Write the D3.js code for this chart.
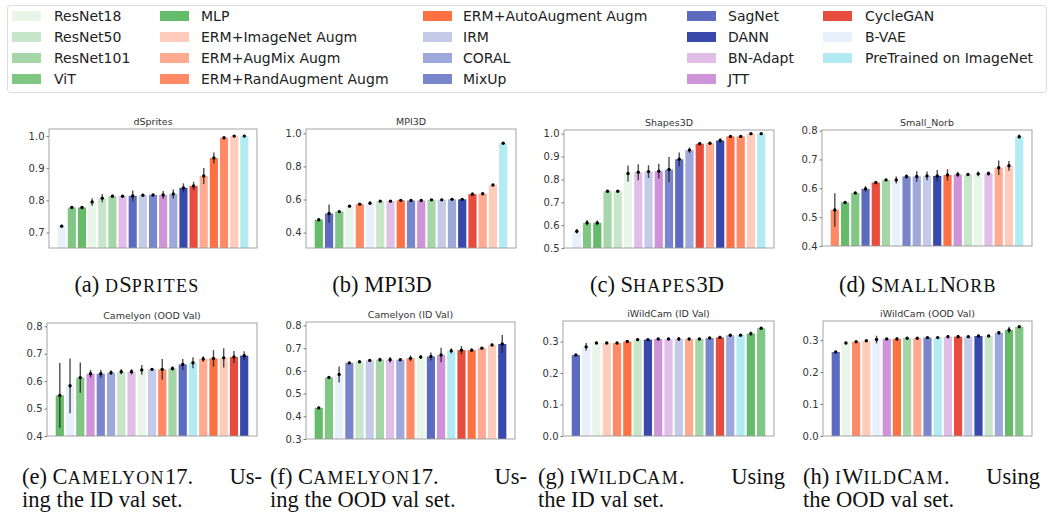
<!DOCTYPE html>
<html lang="en">
<head>
<meta charset="UTF-8">
<script src="https://d3js.org/d3.v7.min.js"></script>
<style>
  body { margin: 0; background: #fff; }
</style>
</head>
<body>
<svg id="fig" width="1054" height="516"></svg>
<script>
// legend / colour table
const methods = ["ResNet18", "ResNet50", "ResNet101", "ViT", "MLP",
  "ERM+ImageNet Augm", "ERM+AugMix Augm", "ERM+RandAugment Augm", "ERM+AutoAugment Augm",
  "IRM", "CORAL", "MixUp", "SagNet", "DANN", "BN-Adapt", "JTT", "CycleGAN", "B-VAE", "PreTrained on ImageNet"];
const methodColors = ["#e8f5e9", "#c8e6c9", "#a5d6a7", "#81c784", "#66bb6a",
  "#ffccbc", "#ffab91", "#ff8a65", "#ff7043",
  "#c5cae9", "#9fa8da", "#7986cb", "#5c6bc0", "#3949ab", "#e1bee7", "#ce93d8", "#e74c3c", "#e8f1fb", "#b2ebf2"];

// dSprites
const dspritesOrder = ["B-VAE", "ViT", "MLP", "ResNet18", "ResNet50", "ResNet101", "BN-Adapt", "SagNet", "IRM", "MixUp", "JTT", "CORAL", "DANN", "CycleGAN", "ERM+AugMix Augm", "ERM+AutoAugment Augm", "ERM+RandAugment Augm", "ERM+ImageNet Augm", "PreTrained on ImageNet"];
const dspritesAcc = [0.720, 0.778, 0.778, 0.795, 0.807, 0.813, 0.813, 0.814, 0.816, 0.817, 0.817, 0.820, 0.839, 0.845, 0.876, 0.932, 0.995, 1.000, 1.000];
const dspritesErr = [0.004, 0.002, 0.004, 0.012, 0.013, 0.005, 0.002, 0.017, 0.003, 0.003, 0.012, 0.014, 0.014, 0.013, 0.025, 0.017, 0.002, 0.001, 0.001];

// MPI3D
const mpi3dOrder = ["MLP", "SagNet", "ViT", "ResNet18", "ERM+RandAugment Augm", "B-VAE", "ResNet50", "BN-Adapt", "ERM+AutoAugment Augm", "MixUp", "JTT", "ResNet101", "IRM", "CORAL", "DANN", "CycleGAN", "ERM+AugMix Augm", "ERM+ImageNet Augm", "PreTrained on ImageNet"];
const mpi3dAcc = [0.478, 0.515, 0.527, 0.560, 0.572, 0.578, 0.590, 0.590, 0.595, 0.594, 0.594, 0.598, 0.598, 0.601, 0.601, 0.632, 0.635, 0.688, 0.940];
const mpi3dErr = [0.002, 0.055, 0.003, 0.003, 0.004, 0.011, 0.004, 0.003, 0.006, 0.004, 0.006, 0.003, 0.003, 0.002, 0.002, 0.010, 0.003, 0.003, 0.002];

// Shapes3D
const shapesOrder = ["B-VAE", "ViT", "MLP", "ResNet101", "ResNet50", "ResNet18", "BN-Adapt", "IRM", "JTT", "MixUp", "SagNet", "CORAL", "CycleGAN", "ERM+AugMix Augm", "DANN", "ERM+AutoAugment Augm", "ERM+RandAugment Augm", "ERM+ImageNet Augm", "PreTrained on ImageNet"];
const shapesAcc = [0.573, 0.610, 0.610, 0.748, 0.748, 0.826, 0.831, 0.834, 0.836, 0.843, 0.888, 0.928, 0.956, 0.958, 0.970, 0.988, 0.988, 1.000, 1.000];
const shapesErr = [0.010, 0.012, 0.010, 0.005, 0.005, 0.035, 0.035, 0.028, 0.032, 0.055, 0.030, 0.012, 0.006, 0.004, 0.010, 0.002, 0.002, 0.001, 0.001];

// Small_Norb
const norbOrder = ["ERM+RandAugment Augm", "MLP", "ViT", "SagNet", "CycleGAN", "ResNet101", "B-VAE", "MixUp", "CORAL", "IRM", "DANN", "ERM+AutoAugment Augm", "JTT", "ResNet50", "ResNet18", "BN-Adapt", "ERM+AugMix Augm", "ERM+ImageNet Augm", "PreTrained on ImageNet"];
const norbAcc = [0.525, 0.551, 0.584, 0.598, 0.620, 0.629, 0.629, 0.641, 0.641, 0.643, 0.643, 0.646, 0.648, 0.648, 0.650, 0.651, 0.671, 0.678, 0.779];
const norbErr = [0.058, 0.005, 0.003, 0.010, 0.003, 0.002, 0.012, 0.007, 0.018, 0.015, 0.020, 0.020, 0.009, 0.004, 0.008, 0.007, 0.025, 0.017, 0.007];

// Camelyon (OOD Val)
const camOodOrder = ["MLP", "B-VAE", "ViT", "JTT", "MixUp", "CORAL", "ResNet50", "BN-Adapt", "ResNet18", "IRM", "ERM+RandAugment Augm", "ResNet101", "SagNet", "PreTrained on ImageNet", "ERM+AugMix Augm", "ERM+AutoAugment Augm", "ERM+ImageNet Augm", "CycleGAN", "DANN"];
const camOodAcc = [0.548, 0.583, 0.613, 0.627, 0.627, 0.631, 0.634, 0.634, 0.641, 0.643, 0.643, 0.646, 0.661, 0.667, 0.681, 0.683, 0.685, 0.688, 0.693];
const camOodErr = [0.118, 0.100, 0.055, 0.014, 0.015, 0.009, 0.009, 0.010, 0.018, 0.003, 0.038, 0.008, 0.020, 0.020, 0.010, 0.030, 0.035, 0.022, 0.016];

// Camelyon (ID Val)
const camIdOrder = ["MLP", "ViT", "B-VAE", "MixUp", "ResNet50", "IRM", "ResNet101", "BN-Adapt", "CORAL", "ERM+RandAugment Augm", "ResNet18", "SagNet", "JTT", "PreTrained on ImageNet", "CycleGAN", "ERM+AutoAugment Augm", "ERM+AugMix Augm", "ERM+ImageNet Augm", "DANN"];
const camIdAcc = [0.437, 0.571, 0.584, 0.635, 0.640, 0.646, 0.649, 0.649, 0.649, 0.655, 0.661, 0.663, 0.670, 0.688, 0.691, 0.691, 0.700, 0.714, 0.718];
const camIdErr = [0.005, 0.004, 0.035, 0.004, 0.002, 0.004, 0.009, 0.012, 0.004, 0.013, 0.008, 0.018, 0.032, 0.012, 0.018, 0.008, 0.003, 0.005, 0.040];

// iWildCam (ID Val)
const wildIdOrder = ["SagNet", "B-VAE", "ResNet18", "ERM+ImageNet Augm", "ERM+RandAugment Augm", "ERM+AutoAugment Augm", "ResNet50", "DANN", "JTT", "BN-Adapt", "IRM", "ERM+AugMix Augm", "ResNet101", "MixUp", "CycleGAN", "CORAL", "PreTrained on ImageNet", "MLP", "ViT"];
const wildIdAcc = [0.257, 0.283, 0.295, 0.295, 0.295, 0.300, 0.306, 0.306, 0.308, 0.308, 0.308, 0.308, 0.308, 0.311, 0.313, 0.320, 0.320, 0.325, 0.342];
const wildIdErr = [0.002, 0.012, 0.002, 0.002, 0.002, 0.004, 0.005, 0.002, 0.002, 0.003, 0.006, 0.003, 0.002, 0.002, 0.005, 0.004, 0.002, 0.007, 0.002];

// iWildCam (OOD Val)
const wildOodOrder = ["SagNet", "ResNet18", "ERM+RandAugment Augm", "ERM+ImageNet Augm", "B-VAE", "JTT", "ERM+AutoAugment Augm", "ResNet101", "ERM+AugMix Augm", "MixUp", "PreTrained on ImageNet", "BN-Adapt", "CycleGAN", "IRM", "DANN", "ResNet50", "CORAL", "MLP", "ViT"];
const wildOodAcc = [0.263, 0.291, 0.295, 0.298, 0.302, 0.304, 0.304, 0.306, 0.306, 0.308, 0.308, 0.311, 0.311, 0.311, 0.313, 0.313, 0.323, 0.332, 0.342];
const wildOodErr = [0.002, 0.003, 0.002, 0.002, 0.012, 0.002, 0.005, 0.003, 0.002, 0.002, 0.002, 0.005, 0.005, 0.002, 0.003, 0.002, 0.006, 0.010, 0.002];

const color = d3.scaleOrdinal().domain(methods).range(methodColors);
const svg = d3.select("#fig");

// ---- legend ----
const legCols = [[12, 54], [160, 201], [423, 463], [687, 728], [823, 865]];
svg.append("rect").attr("x", 7.5).attr("y", 5.5).attr("width", 1039).attr("height", 87)
  .attr("rx", 3).attr("fill", "#fff").attr("stroke", "#dcdcdc");
methods.forEach((m, i) => {
  let c = legCols[Math.floor(i / 4)], cy = 16 + (i % 4) * 21;
  svg.append("rect").attr("x", c[0]).attr("y", cy - 5).attr("width", 29).attr("height", 10)
    .attr("fill", color(m));
  svg.append("text").attr("x", c[1]).attr("y", cy + 5).text(m)
    .style("font-family", "DejaVu Sans").style("font-size", "14px").attr("fill", "#222");
});

// ---- panels ----
const panels = [
  { title: "dSprites", order: dspritesOrder, acc: dspritesAcc, err: dspritesErr, dom: [0.652, 1.022], ticks: [0.7, 0.8, 0.9, 1.0], box: [49, 257, 129, 248] },
  { title: "MPI3D", order: mpi3dOrder, acc: mpi3dAcc, err: mpi3dErr, dom: [0.307, 1.026], ticks: [0.4, 0.6, 0.8, 1.0], box: [306, 516, 129, 248] },
  { title: "Shapes3D", order: shapesOrder, acc: shapesAcc, err: shapesErr, dom: [0.5, 1.016], ticks: [0.5, 0.6, 0.7, 0.8, 0.9, 1.0], box: [564, 774, 130, 248] },
  { title: "Small_Norb", order: norbOrder, acc: norbAcc, err: norbErr, dom: [0.4, 0.802], ticks: [0.4, 0.5, 0.6, 0.7, 0.8], box: [822, 1032, 130, 246] },
  { title: "Camelyon (OOD Val)", order: camOodOrder, acc: camOodAcc, err: camOodErr, dom: [0.4, 0.812], ticks: [0.4, 0.5, 0.6, 0.7, 0.8], box: [47, 257, 323, 436] },
  { title: "Camelyon (ID Val)", order: camIdOrder, acc: camIdAcc, err: camIdErr, dom: [0.3, 0.815], ticks: [0.3, 0.4, 0.5, 0.6, 0.7, 0.8], box: [306, 515, 322, 439] },
  { title: "iWildCam (ID Val)", order: wildIdOrder, acc: wildIdAcc, err: wildIdErr, dom: [0, 0.365], ticks: [0.0, 0.1, 0.2, 0.3], box: [563, 774, 321, 436] },
  { title: "iWildCam (OOD Val)", order: wildOodOrder, acc: wildOodAcc, err: wildOodErr, dom: [0, 0.36], ticks: [0.0, 0.1, 0.2, 0.3], box: [823, 1032, 321, 436] }
];

panels.forEach(p => {
  let [l, r, t, b] = p.box;
  let x = d3.scaleBand().domain(p.order).range([l, r]).paddingInner(0.2).paddingOuter(0.85);
  let y = d3.scaleLinear().domain(p.dom).range([b, t]);
  let g = svg.append("g");

  g.selectAll(".bar").data(p.order).enter().append("rect")
    .attr("x", d => x(d))
    .attr("y", (d, i) => y(p.acc[i]))
    .attr("width", x.bandwidth())
    .attr("height", (d, i) => b - y(p.acc[i]))
    .attr("fill", d => color(d));

  g.selectAll(".err").data(p.order).enter().append("line")
    .attr("x1", d => x(d) + x.bandwidth() / 2)
    .attr("x2", d => x(d) + x.bandwidth() / 2)
    .attr("y1", (d, i) => y(p.acc[i] - p.err[i]))
    .attr("y2", (d, i) => y(p.acc[i] + p.err[i]))
    .attr("stroke", "#222").attr("stroke-opacity", 0.8).attr("stroke-width", 1.4);

  g.selectAll(".dot").data(p.order).enter().append("circle")
    .attr("cx", d => x(d) + x.bandwidth() / 2)
    .attr("cy", (d, i) => y(p.acc[i]))
    .attr("r", 1.7).attr("fill", "#000");

  g.append("rect").attr("x", l).attr("y", t).attr("width", r - l).attr("height", b - t)
    .attr("fill", "none").attr("stroke", "#9a9a9a").attr("stroke-width", 0.9);

  let ax = g.append("g").attr("transform", `translate(${l},0)`)
    .call(d3.axisLeft(y).tickValues(p.ticks).tickSize(2.5).tickPadding(2).tickFormat(d3.format(".1f")));
  ax.select(".domain").remove();
  ax.selectAll("line").attr("stroke", "#777");
  ax.selectAll("text").style("font-family", "DejaVu Sans").style("font-size", "10px").attr("fill", "#333");

  g.append("text").attr("x", (l + r) / 2).attr("y", t - 4).attr("text-anchor", "middle")
    .style("font-family", "DejaVu Sans").style("font-size", "9.5px").attr("fill", "#333")
    .text(p.title);
});

// ---- captions ----
// small caps done by hand: lower-case letters become smaller capitals
function addSmallCaps(t, s) {
  let runs = s.match(/[a-z]+|[^a-z]+/g) || [];
  runs.forEach(run => {
    if (/[a-z]/.test(run[0])) {
      t.append("tspan").style("font-size", "18px").style("letter-spacing", "1.3px").text(run.toUpperCase());
    } else {
      t.append("tspan").text(run);
    }
  });
}
function caption(x, yy, pre, sc, post, anchor) {
  let t = svg.append("text").attr("x", x).attr("y", yy).attr("text-anchor", anchor || "start")
    .style("font-family", "Liberation Serif").style("font-size", "22.5px").attr("fill", "#111");
  t.append("tspan").text(pre);
  if (sc) addSmallCaps(t, sc);
  if (post) t.append("tspan").text(post);
  return t;
}
caption(137, 292, "(a) ", "dSprites", "", "middle");
caption(382, 292, "(b) MPI3D", "", "", "middle");
caption(657, 292, "(c) ", "Shapes3D", "", "middle");
caption(918, 292, "(d) ", "SmallNorb", "", "middle");

const bottomCaps = [
  [22, 262, "(e) ", "Camelyon17", ".", "Us-", "ing the ID val set."],
  [270, 527, "(f) ", "Camelyon17", ".", "Us-", "ing the OOD val set."],
  [538, 785, "(g) ", "iWildCam", ".", "Using", "the ID val set."],
  [803, 1040, "(h) ", "iWildCam", ".", "Using", "the OOD val set."]
];
bottomCaps.forEach(c => {
  caption(c[0], 484, c[2], c[3], c[4]);
  caption(c[1], 484, c[5], "", "", "end");
  caption(c[0], 507, c[6], "", "");
});
</script>
</body>
</html>
